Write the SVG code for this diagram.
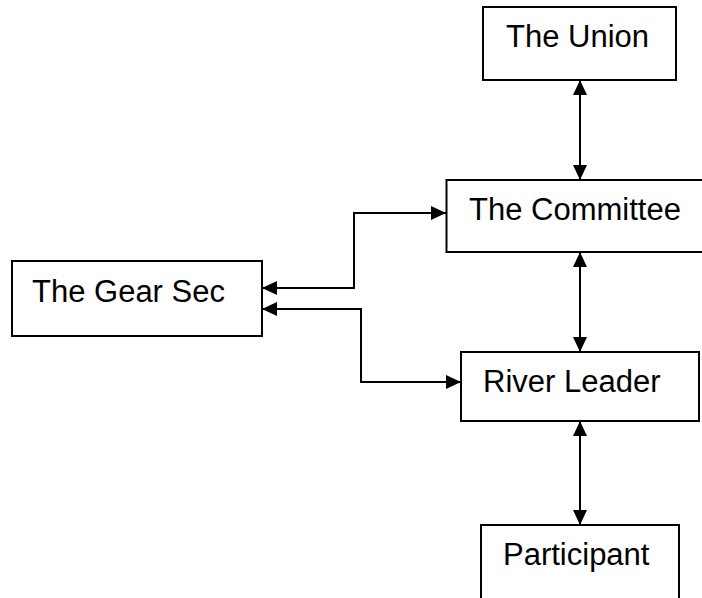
<svg xmlns="http://www.w3.org/2000/svg" width="702" height="598" viewBox="0 0 702 598">
<style>
.box{fill:#fff;stroke:#000;stroke-width:2}
.lbl{font-family:"Liberation Sans",Arial,sans-serif;font-size:31px;fill:#000}
.con{fill:none;stroke:#000;stroke-width:2;marker-start:url(#ah);marker-end:url(#ah)}
</style>
<defs>
<marker id="ah" markerUnits="userSpaceOnUse" markerWidth="16" markerHeight="14" refX="15" refY="7" orient="auto-start-reverse">
<path d="M0,0 L15,7 L0,14 z" fill="#000"/>
</marker>
</defs>
<rect width="702" height="598" fill="#fff"/>
<g id="union"><rect class="box" x="483" y="7" width="193" height="73"/><text class="lbl" x="506" y="47">The Union</text></g>
<g id="committee"><rect class="box" x="446.5" y="180" width="265" height="72"/><text class="lbl" x="469" y="220">The Committee</text></g>
<g id="gearsec"><rect class="box" x="12" y="261" width="250" height="75"/><text class="lbl" x="32" y="302">The Gear Sec</text></g>
<g id="riverleader"><rect class="box" x="461" y="352" width="238" height="69"/><text class="lbl" x="483" y="392">River Leader</text></g>
<g id="participant"><rect class="box" x="481" y="525" width="198" height="85"/><text class="lbl" x="503" y="565">Participant</text></g>
<g id="connectors">
<path class="con" d="M580,80 V180"/>
<path class="con" d="M580,252 V352"/>
<path class="con" d="M580,421 V525"/>
<path class="con" d="M262,288 H354 V213 H446"/>
<path class="con" d="M262,309 H361 V382 H461"/>
</g>
</svg>
